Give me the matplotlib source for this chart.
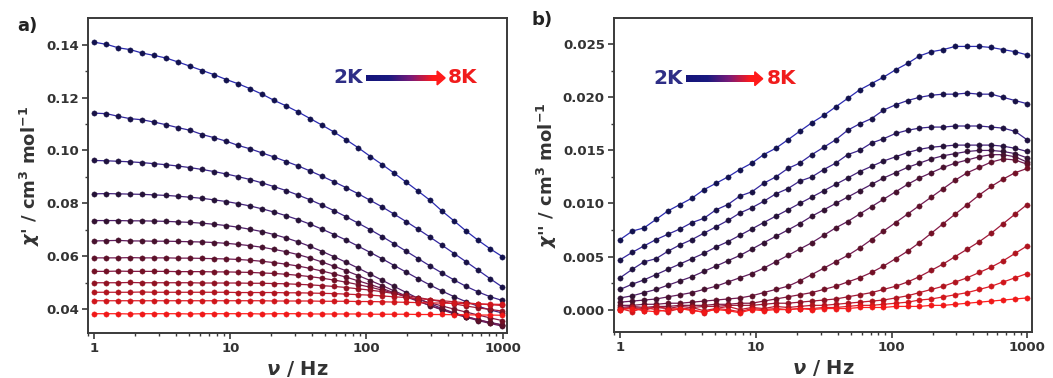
#!/usr/bin/env python3
"""
AC susceptibility (in-phase / out-of-phase) vs frequency, 2K -> 8K
"""

import numpy as np
import matplotlib
matplotlib.use('Agg')
import matplotlib.pyplot as plt
from matplotlib.colors import LinearSegmentedColormap
from matplotlib.patches import Polygon

# Frequencies (Hz)
freq = [1.0, 1.23, 1.5, 1.84, 2.25, 2.76, 3.38, 4.14, 5.08, 6.22, 7.62, 9.33,
        11.4, 14.0, 17.2, 21.0, 25.8, 31.6, 38.7, 47.4, 58.0, 71.1, 87.1, 107,
        131, 160, 196, 240, 294, 361, 442, 541, 663, 812, 995]

# chi' (cm3 mol-1), one list per temperature, 2K first
chi1_c1 = [0.1409, 0.1401, 0.1388, 0.1381, 0.1368, 0.1359, 0.1349, 0.1334, 0.1318, 0.1302, 0.1286, 0.1268,
           0.1252, 0.1233, 0.1212, 0.1189, 0.1168, 0.1145, 0.1120, 0.1095, 0.1069, 0.1040, 0.1010, 0.0977,
           0.0946, 0.0914, 0.0880, 0.0846, 0.0811, 0.0770, 0.0733, 0.0695, 0.0660, 0.0628, 0.0599]
chi1_c2 = [0.1141, 0.1139, 0.1129, 0.1120, 0.1116, 0.1107, 0.1097, 0.1086, 0.1076, 0.1060, 0.1048, 0.1035,
           0.1019, 0.1006, 0.0990, 0.0975, 0.0958, 0.0941, 0.0922, 0.0902, 0.0881, 0.0859, 0.0836, 0.0811,
           0.0786, 0.0759, 0.0731, 0.0702, 0.0672, 0.0641, 0.0610, 0.0579, 0.0547, 0.0515, 0.0484]
chi1_c3 = [0.0962, 0.0961, 0.0959, 0.0957, 0.0954, 0.0950, 0.0946, 0.0941, 0.0935, 0.0928, 0.0920, 0.0911,
           0.0901, 0.0890, 0.0877, 0.0863, 0.0848, 0.0831, 0.0813, 0.0793, 0.0772, 0.0749, 0.0725, 0.0700,
           0.0674, 0.0647, 0.0619, 0.0591, 0.0563, 0.0536, 0.0510, 0.0486, 0.0465, 0.0447, 0.0433]
chi1_c4 = [0.0836, 0.0837, 0.0836, 0.0835, 0.0834, 0.0832, 0.0830, 0.0827, 0.0823, 0.0819, 0.0813, 0.0807,
           0.0799, 0.0790, 0.0779, 0.0767, 0.0753, 0.0738, 0.0721, 0.0702, 0.0682, 0.0661, 0.0638, 0.0614,
           0.0590, 0.0565, 0.0540, 0.0515, 0.0491, 0.0468, 0.0447, 0.0428, 0.0411, 0.0397, 0.0386]
chi1_c5 = [0.0735, 0.0735, 0.0735, 0.0734, 0.0734, 0.0733, 0.0732, 0.0730, 0.0728, 0.0725, 0.0721, 0.0716,
           0.0710, 0.0702, 0.0693, 0.0682, 0.0669, 0.0654, 0.0637, 0.0618, 0.0598, 0.0577, 0.0555, 0.0532,
           0.0509, 0.0486, 0.0463, 0.0441, 0.0421, 0.0402, 0.0386, 0.0372, 0.0360, 0.0350, 0.0341]
chi1_c6 = [0.0658, 0.0659, 0.0660, 0.0658, 0.0658, 0.0657, 0.0657, 0.0656, 0.0655, 0.0654, 0.0652, 0.0649,
           0.0645, 0.0640, 0.0634, 0.0626, 0.0617, 0.0606, 0.0593, 0.0578, 0.0562, 0.0545, 0.0527, 0.0508,
           0.0489, 0.0469, 0.0450, 0.0431, 0.0413, 0.0397, 0.0382, 0.0369, 0.0357, 0.0346, 0.0336]
chi1_c7 = [0.0594, 0.0594, 0.0594, 0.0595, 0.0594, 0.0594, 0.0594, 0.0593, 0.0593, 0.0592, 0.0591, 0.0590,
           0.0588, 0.0585, 0.0581, 0.0576, 0.0570, 0.0563, 0.0554, 0.0544, 0.0533, 0.0521, 0.0507, 0.0493,
           0.0478, 0.0462, 0.0446, 0.0430, 0.0414, 0.0399, 0.0385, 0.0372, 0.0360, 0.0349, 0.0340]
chi1_c8 = [0.0543, 0.0543, 0.0544, 0.0543, 0.0543, 0.0543, 0.0543, 0.0542, 0.0542, 0.0542, 0.0541, 0.0541,
           0.0540, 0.0539, 0.0537, 0.0535, 0.0532, 0.0528, 0.0523, 0.0517, 0.0510, 0.0502, 0.0493, 0.0483,
           0.0472, 0.0460, 0.0448, 0.0436, 0.0424, 0.0412, 0.0400, 0.0389, 0.0378, 0.0367, 0.0357]
chi1_c9 = [0.0500, 0.0500, 0.0500, 0.0501, 0.0500, 0.0500, 0.0500, 0.0500, 0.0500, 0.0499, 0.0499, 0.0499,
           0.0499, 0.0498, 0.0498, 0.0497, 0.0496, 0.0494, 0.0492, 0.0489, 0.0486, 0.0482, 0.0477, 0.0472,
           0.0466, 0.0459, 0.0452, 0.0444, 0.0436, 0.0428, 0.0420, 0.0412, 0.0405, 0.0399, 0.0393]
chi1_c10 = [0.0464, 0.0464, 0.0464, 0.0464, 0.0465, 0.0464, 0.0464, 0.0464, 0.0464, 0.0464, 0.0464, 0.0464,
            0.0463, 0.0463, 0.0463, 0.0463, 0.0462, 0.0462, 0.0461, 0.0460, 0.0459, 0.0457, 0.0455, 0.0453,
            0.0450, 0.0447, 0.0444, 0.0440, 0.0436, 0.0432, 0.0428, 0.0424, 0.0420, 0.0417, 0.0414]
chi1_c11 = [0.0432, 0.0432, 0.0432, 0.0432, 0.0432, 0.0432, 0.0432, 0.0432, 0.0432, 0.0432, 0.0432, 0.0432,
            0.0432, 0.0432, 0.0432, 0.0431, 0.0431, 0.0431, 0.0431, 0.0430, 0.0430, 0.0430, 0.0429, 0.0429,
            0.0428, 0.0427, 0.0426, 0.0425, 0.0424, 0.0423, 0.0422, 0.0421, 0.0420, 0.0419, 0.0418]
chi1_c12 = [0.0383, 0.0383, 0.0383, 0.0382, 0.0383, 0.0383, 0.0383, 0.0383, 0.0382, 0.0383, 0.0383, 0.0383,
            0.0383, 0.0383, 0.0382, 0.0383, 0.0383, 0.0383, 0.0382, 0.0382, 0.0382, 0.0382, 0.0382, 0.0381,
            0.0381, 0.0381, 0.0381, 0.0380, 0.0380, 0.0380, 0.0379, 0.0379, 0.0378, 0.0378, 0.0377]

# chi'' (cm3 mol-1), 2K first
chi2_c1 = [0.0066, 0.0074, 0.0077, 0.0085, 0.0093, 0.0099, 0.0105, 0.0113, 0.0119, 0.0125, 0.0132, 0.0138,
           0.0146, 0.0152, 0.0160, 0.0168, 0.0176, 0.0183, 0.0191, 0.0199, 0.0207, 0.0213, 0.0219, 0.0226,
           0.0232, 0.0239, 0.0243, 0.0245, 0.0248, 0.0248, 0.0248, 0.0247, 0.0245, 0.0243, 0.0240]
chi2_c2 = [0.0047, 0.0054, 0.0060, 0.0066, 0.0071, 0.0076, 0.0082, 0.0086, 0.0094, 0.0099, 0.0107, 0.0111,
           0.0119, 0.0125, 0.0133, 0.0138, 0.0146, 0.0153, 0.0160, 0.0169, 0.0175, 0.0180, 0.0188, 0.0193,
           0.0197, 0.0200, 0.0202, 0.0203, 0.0203, 0.0204, 0.0203, 0.0203, 0.0200, 0.0197, 0.0194]
chi2_c3 = [0.0030, 0.0038, 0.0045, 0.0048, 0.0055, 0.0061, 0.0066, 0.0072, 0.0078, 0.0084, 0.0091, 0.0096,
           0.0102, 0.0109, 0.0114, 0.0121, 0.0125, 0.0132, 0.0138, 0.0146, 0.0150, 0.0157, 0.0161, 0.0166,
           0.0169, 0.0171, 0.0172, 0.0172, 0.0173, 0.0173, 0.0173, 0.0172, 0.0171, 0.0168, 0.0160]
chi2_c4 = [0.0019, 0.0024, 0.0028, 0.0033, 0.0038, 0.0043, 0.0048, 0.0053, 0.0059, 0.0064, 0.0070, 0.0076,
           0.0082, 0.0088, 0.0094, 0.0100, 0.0106, 0.0112, 0.0118, 0.0124, 0.0130, 0.0135, 0.0140, 0.0144,
           0.0148, 0.0151, 0.0153, 0.0154, 0.0155, 0.0155, 0.0155, 0.0155, 0.0154, 0.0152, 0.0149]
chi2_c5 = [0.0011, 0.0013, 0.0016, 0.0019, 0.0023, 0.0027, 0.0031, 0.0036, 0.0041, 0.0046, 0.0051, 0.0057,
           0.0063, 0.0069, 0.0075, 0.0081, 0.0088, 0.0094, 0.0100, 0.0106, 0.0112, 0.0118, 0.0124, 0.0129,
           0.0134, 0.0138, 0.0142, 0.0145, 0.0147, 0.0149, 0.0150, 0.0150, 0.0149, 0.0147, 0.0143]
chi2_c6 = [0.0007, 0.0008, 0.0009, 0.0010, 0.0012, 0.0014, 0.0016, 0.0019, 0.0022, 0.0026, 0.0030, 0.0034,
           0.0039, 0.0045, 0.0051, 0.0057, 0.0063, 0.0070, 0.0077, 0.0083, 0.0090, 0.0097, 0.0104, 0.0111,
           0.0118, 0.0124, 0.0129, 0.0134, 0.0138, 0.0141, 0.0144, 0.0146, 0.0146, 0.0144, 0.0139]
chi2_c7 = [0.0004, 0.0004, 0.0005, 0.0005, 0.0006, 0.0006, 0.0007, 0.0008, 0.0009, 0.0010, 0.0011, 0.0013,
           0.0016, 0.0019, 0.0022, 0.0027, 0.0033, 0.0039, 0.0045, 0.0051, 0.0058, 0.0066, 0.0074, 0.0082,
           0.0090, 0.0098, 0.0106, 0.0114, 0.0122, 0.0129, 0.0134, 0.0139, 0.0142, 0.0141, 0.0137]
chi2_c8 = [0.0002, 0.0003, 0.0002, 0.0003, 0.0003, 0.0004, 0.0004, 0.0004, 0.0005, 0.0005, 0.0006, 0.0006,
           0.0008, 0.0010, 0.0012, 0.0014, 0.0016, 0.0019, 0.0022, 0.0026, 0.0030, 0.0035, 0.0041, 0.0048,
           0.0055, 0.0063, 0.0072, 0.0081, 0.0090, 0.0099, 0.0108, 0.0116, 0.0123, 0.0129, 0.0133]
chi2_c9 = [0.0001, 0.0002, 0.0001, 0.0002, 0.0001, 0.0003, 0.0002, 0.0003, 0.0003, 0.0004, 0.0004, 0.0004,
           0.0005, 0.0006, 0.0006, 0.0007, 0.0008, 0.0009, 0.0010, 0.0012, 0.0014, 0.0016, 0.0019, 0.0022,
           0.0026, 0.0031, 0.0037, 0.0043, 0.0050, 0.0057, 0.0064, 0.0072, 0.0081, 0.0090, 0.0099]
chi2_c10 = [0.0000, 0.0002, -0.0001, 0.0003, 0.0001, 0.0000, 0.0002, -0.0001, 0.0001, 0.0003, 0.0000, 0.0002,
            0.0001, 0.0003, 0.0002, 0.0003, 0.0004, 0.0004, 0.0005, 0.0006, 0.0007, 0.0008, 0.0009, 0.0011,
            0.0013, 0.0016, 0.0019, 0.0022, 0.0026, 0.0030, 0.0035, 0.0040, 0.0046, 0.0053, 0.0060]
chi2_c11 = [0.0001, -0.0002, 0.0002, 0.0000, -0.0002, 0.0001, 0.0000, -0.0003, 0.0001, 0.0000, -0.0002, 0.0001,
            0.0000, 0.0001, 0.0000, 0.0001, 0.0001, 0.0002, 0.0002, 0.0003, 0.0004, 0.0004, 0.0005, 0.0006,
            0.0007, 0.0009, 0.0010, 0.0012, 0.0014, 0.0016, 0.0019, 0.0022, 0.0026, 0.0030, 0.0034]
chi2_c12 = [0.0000, 0.0001, -0.0001, -0.0002, 0.0000, 0.0001, -0.0001, -0.0002, 0.0000, -0.0001, -0.0003, 0.0000,
            -0.0001, 0.0000, 0.0000, 0.0001, 0.0000, 0.0001, 0.0001, 0.0001, 0.0002, 0.0002, 0.0002, 0.0003,
            0.0003, 0.0003, 0.0004, 0.0004, 0.0005, 0.0006, 0.0007, 0.0008, 0.0009, 0.0010, 0.0011]

chi1_curves = [chi1_c1, chi1_c2, chi1_c3, chi1_c4, chi1_c5, chi1_c6,
               chi1_c7, chi1_c8, chi1_c9, chi1_c10, chi1_c11, chi1_c12]
chi2_curves = [chi2_c1, chi2_c2, chi2_c3, chi2_c4, chi2_c5, chi2_c6,
               chi2_c7, chi2_c8, chi2_c9, chi2_c10, chi2_c11, chi2_c12]

# Fonts (wide bold sans, like the original)
plt.rcParams['font.family'] = ['DejaVu Sans']
plt.rcParams['font.weight'] = 'bold'
plt.rcParams['mathtext.fontset'] = 'custom'
plt.rcParams['mathtext.rm'] = 'DejaVu Sans:bold'
plt.rcParams['mathtext.it'] = 'DejaVu Sans:italic:bold'
plt.rcParams['mathtext.bf'] = 'DejaVu Sans:bold'

# Colour ramps: lines and (darker) markers, blue (2K) -> red (8K)
line_cmap = LinearSegmentedColormap.from_list(
    'lines', ['#2a2ab0', '#4a2070', '#8a1840', '#ff2020'])
mark_cmap = LinearSegmentedColormap.from_list(
    'marks', ['#12124e', '#2a1232', '#7a1024', '#f01818'])
arrow_cmap = LinearSegmentedColormap.from_list(
    'arrow', ['#14147a', '#1a1a80', '#7a1a78', '#ff1a1a', '#ff1a1a'])

EDGE = '#3a3a3a'
TXT = '#333333'

fig = plt.figure(figsize=(10.53, 3.78), dpi=100)
ax1 = fig.add_axes([0.0836, 0.119, 0.398, 0.833])
ax2 = fig.add_axes([0.583, 0.122, 0.397, 0.831])


def draw_curves(ax, curves):
    n = len(curves)
    for i, ys in enumerate(curves):
        t = i / (n - 1)
        ax.plot(freq, ys, '-', color=line_cmap(t), lw=0.9, zorder=2 + i * 0.01)
        ax.plot(freq, ys, 'o', ms=3.8, mfc=mark_cmap(t), mec=mark_cmap(t),
                mew=0.3, zorder=3 + i * 0.01)


def style_axes(ax, ylim, major, minor, fmt):
    ax.set_xscale('log')
    ax.set_xlim(0.9, 1080)
    ax.set_ylim(*ylim)
    ax.set_xticks([1, 10, 100, 1000])
    ax.set_xticklabels(['1', '10', '100', '1000'])
    ax.set_yticks(major)
    ax.set_yticklabels([fmt.format(v) for v in major])
    ax.set_yticks(minor, minor=True)
    ax.tick_params(which='major', direction='out', length=4.5, width=1.2,
                   color=EDGE, labelsize=9.5, labelcolor=TXT, pad=2)
    ax.tick_params(which='minor', direction='out', length=2.5, width=1.0, color=EDGE)
    ax.tick_params(top=False, right=False, which='both')
    for sp in ax.spines.values():
        sp.set_color(EDGE)
        sp.set_linewidth(1.4)
    ax.set_xlabel(r'$\nu$ / Hz', fontsize=14, fontweight='bold', color=TXT, labelpad=3)


def gradient_arrow(ax, x0, x1, xh, yc, body_h, head_h):
    # body as gradient image, head as red triangle (axes coords)
    inset = ax.inset_axes([x0, yc - body_h / 2, xh - x0, body_h])
    grad = np.linspace(0, 0.8, 256).reshape(1, -1)
    inset.imshow(grad, aspect='auto', cmap=arrow_cmap, vmin=0, vmax=1)
    inset.set_axis_off()
    head = Polygon([[xh, yc - head_h / 2], [xh, yc + head_h / 2], [x1, yc]],
                   closed=True, transform=ax.transAxes, color='#ff1a1a',
                   clip_on=False, zorder=6)
    ax.add_patch(head)


# a) chi'
draw_curves(ax1, chi1_curves)
style_axes(ax1, (0.031, 0.150),
           [0.04, 0.06, 0.08, 0.10, 0.12, 0.14],
           [0.05, 0.07, 0.09, 0.11, 0.13],
           '{:.2f}')
ax1.set_ylabel(r"$\chi$' / cm$^3$ mol$^{-1}$", fontsize=13, fontweight='bold',
               color=TXT, labelpad=3)
ax1.text(0.656, 0.81, '2K', transform=ax1.transAxes, ha='right', va='center',
         fontsize=14.5, fontweight='bold', color='#2e2e86')
ax1.text(0.859, 0.81, '8K', transform=ax1.transAxes, ha='left', va='center',
         fontsize=14.5, fontweight='bold', color='#f01c1c')
gradient_arrow(ax1, 0.663, 0.852, 0.833, 0.81, 0.022, 0.044)

# b) chi''
draw_curves(ax2, chi2_curves)
style_axes(ax2, (-0.0021, 0.0275),
           [0.000, 0.005, 0.010, 0.015, 0.020, 0.025],
           [0.0025, 0.0075, 0.0125, 0.0175, 0.0225],
           '{:.3f}')
ax2.set_ylabel(r"$\chi$'' / cm$^3$ mol$^{-1}$", fontsize=13, fontweight='bold',
               color=TXT, labelpad=3)
ax2.text(0.165, 0.806, '2K', transform=ax2.transAxes, ha='right', va='center',
         fontsize=14.5, fontweight='bold', color='#2e2e86')
ax2.text(0.366, 0.806, '8K', transform=ax2.transAxes, ha='left', va='center',
         fontsize=14.5, fontweight='bold', color='#f01c1c')
gradient_arrow(ax2, 0.172, 0.356, 0.337, 0.806, 0.022, 0.044)

# panel letters
fig.text(0.016, 0.955, 'a)', fontsize=13, fontweight='bold', color='#222222', va='top')
fig.text(0.505, 0.97, 'b)', fontsize=13, fontweight='bold', color='#222222', va='top')

fig.savefig('out.png', dpi=100)
plt.close(fig)
